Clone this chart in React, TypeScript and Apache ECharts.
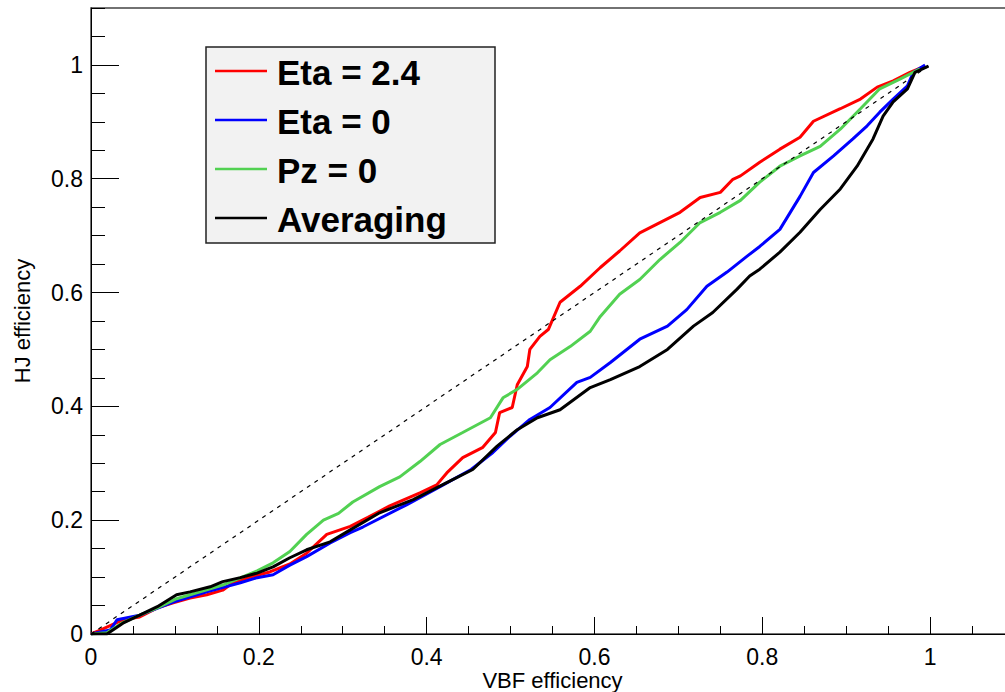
import React, { useEffect, useRef } from "react";
import * as echarts from "echarts";

const seriesNames = ["Eta = 2.4", "Eta = 0", "Pz = 0", "Averaging"];
const seriesColors = ["#ff0000", "#0000ff", "#52d152", "#000000"];

const xTitle = "VBF efficiency";
const yTitle = "HJ efficiency";

const eta24: number[][] = [
  [0, 0], [0.011, 0.007], [0.038, 0.025], [0.058, 0.03], [0.079, 0.046], [0.098, 0.055],
  [0.118, 0.063], [0.138, 0.069], [0.157, 0.077], [0.169, 0.09], [0.19, 0.1], [0.213, 0.109],
  [0.237, 0.123], [0.257, 0.142], [0.281, 0.175], [0.309, 0.189], [0.33, 0.205], [0.356, 0.225],
  [0.392, 0.248], [0.412, 0.262], [0.424, 0.283], [0.443, 0.31], [0.467, 0.328], [0.482, 0.354],
  [0.487, 0.389], [0.502, 0.398], [0.508, 0.438], [0.52, 0.47], [0.523, 0.5], [0.535, 0.523],
  [0.545, 0.535], [0.559, 0.583], [0.583, 0.611], [0.607, 0.644], [0.63, 0.673], [0.654, 0.705],
  [0.678, 0.723], [0.702, 0.741], [0.726, 0.767], [0.75, 0.776], [0.765, 0.799], [0.774, 0.805],
  [0.797, 0.829], [0.821, 0.852], [0.845, 0.873], [0.861, 0.901], [0.893, 0.923], [0.917, 0.94],
  [0.937, 0.961], [0.956, 0.972], [0.976, 0.987], [0.994, 0.998],
];

const eta0: number[][] = [
  [0, 0], [0.023, 0.007], [0.031, 0.025], [0.058, 0.033], [0.098, 0.056], [0.138, 0.074],
  [0.178, 0.09], [0.198, 0.099], [0.217, 0.104], [0.237, 0.121], [0.257, 0.136], [0.285, 0.16],
  [0.309, 0.178], [0.324, 0.188], [0.376, 0.227], [0.416, 0.259], [0.453, 0.289], [0.479, 0.319],
  [0.499, 0.347], [0.523, 0.377], [0.547, 0.398], [0.579, 0.442], [0.595, 0.451], [0.619, 0.477],
  [0.654, 0.518], [0.687, 0.541], [0.71, 0.57], [0.734, 0.611], [0.758, 0.636], [0.782, 0.664],
  [0.797, 0.681], [0.821, 0.711], [0.845, 0.769], [0.861, 0.811], [0.885, 0.84], [0.908, 0.87],
  [0.925, 0.893], [0.94, 0.917], [0.956, 0.94], [0.973, 0.963], [0.98, 0.987], [0.994, 1.0],
];

const pz0: number[][] = [
  [0, 0], [0.019, 0.002], [0.038, 0.02], [0.058, 0.033], [0.079, 0.046], [0.102, 0.062],
  [0.118, 0.069], [0.157, 0.086], [0.198, 0.111], [0.217, 0.125], [0.237, 0.145], [0.257, 0.175],
  [0.277, 0.2], [0.295, 0.212], [0.312, 0.232], [0.344, 0.259], [0.368, 0.276], [0.392, 0.303],
  [0.416, 0.333], [0.443, 0.354], [0.476, 0.38], [0.491, 0.415], [0.508, 0.43], [0.532, 0.459],
  [0.547, 0.482], [0.571, 0.505], [0.595, 0.532], [0.607, 0.558], [0.63, 0.597], [0.654, 0.623],
  [0.678, 0.658], [0.702, 0.688], [0.726, 0.723], [0.75, 0.741], [0.774, 0.762], [0.797, 0.794],
  [0.821, 0.822], [0.845, 0.84], [0.869, 0.857], [0.893, 0.887], [0.917, 0.923], [0.94, 0.958],
  [0.964, 0.975], [0.988, 0.993],
];

const averaging: number[][] = [
  [0, 0], [0.019, 0], [0.038, 0.019], [0.058, 0.033], [0.079, 0.048], [0.102, 0.069],
  [0.118, 0.074], [0.142, 0.083], [0.157, 0.092], [0.178, 0.099], [0.198, 0.107], [0.217, 0.118],
  [0.237, 0.134], [0.257, 0.148], [0.285, 0.162], [0.309, 0.183], [0.344, 0.213], [0.384, 0.236],
  [0.424, 0.266], [0.455, 0.289], [0.484, 0.33], [0.508, 0.359], [0.532, 0.38], [0.559, 0.394],
  [0.595, 0.433], [0.619, 0.447], [0.654, 0.47], [0.687, 0.5], [0.718, 0.541], [0.741, 0.565],
  [0.77, 0.606], [0.785, 0.629], [0.797, 0.641], [0.821, 0.671], [0.845, 0.706], [0.869, 0.746],
  [0.893, 0.782], [0.913, 0.822], [0.932, 0.87], [0.944, 0.91], [0.956, 0.935], [0.973, 0.958],
  [0.982, 0.987], [0.998, 0.998],
];

const diagonal: number[][] = [
  [0, 0],
  [1, 1],
];

const curves = [eta24, eta0, pz0, averaging];

const FONT = "'Liberation Sans', Arial, Helvetica, sans-serif";

export default function App() {
  const ref = useRef<HTMLDivElement>(null);

  useEffect(() => {
    if (!ref.current) return;
    const chart = echarts.init(ref.current, undefined, { renderer: "svg" });

    const legendTop = 47;
    const rowGap = 49;
    const firstRow = 71;
    const legendGraphics: any[] = [
      {
        type: "rect",
        shape: { x: 206, y: legendTop, width: 289, height: 196 },
        style: { fill: "#f2f2f2", stroke: "#222", lineWidth: 1.5 },
        z: 100,
      },
    ];
    seriesNames.forEach((name, i) => {
      const y = firstRow + i * rowGap;
      legendGraphics.push({
        type: "line",
        shape: { x1: 215, y1: y, x2: 267, y2: y },
        style: { stroke: seriesColors[i], lineWidth: 2.5 },
        z: 101,
      });
      legendGraphics.push({
        type: "text",
        x: 277,
        y: y + 1,
        style: {
          text: name,
          fill: "#000",
          font: `bold 35px ${FONT}`,
          verticalAlign: "middle",
          align: "left",
        },
        z: 101,
      });
    });

    const baseAxis = (isX: boolean) => ({
      type: "value" as const,
      min: 0,
      max: 1.1,
      interval: 0.2,
      position: isX ? "bottom" : "left",
      axisLine: { show: true, lineStyle: { color: "#000", width: 1 } },
      axisTick: { show: true, inside: true, length: isX ? 17 : 28, lineStyle: { color: "#000", width: 1 } },
      axisLabel: {
        show: true,
        margin: isX ? 11 : 8,
        fontSize: 23,
        fontFamily: FONT,
        color: "#000",
        showMaxLabel: false,
      },
      splitLine: { show: false },
      name: isX ? xTitle : yTitle,
      nameLocation: "middle" as const,
      nameGap: isX ? 35 : 58,
      nameRotate: isX ? 0 : 90,
      nameMoveOverlap: false,
      nameTextStyle: { fontSize: 22, fontFamily: FONT, color: "#000" },
    });

    const minorAxis = (isX: boolean) => ({
      type: "value" as const,
      min: 0,
      max: 1.1,
      interval: 0.05,
      position: isX ? "bottom" : "left",
      axisLine: { show: false },
      axisTick: { show: true, inside: true, length: isX ? 8 : 14, lineStyle: { color: "#000", width: 1 } },
      axisLabel: { show: false },
      splitLine: { show: false },
    });

    const option: any = {
      animation: false,
      backgroundColor: "#ffffff",
      grid: {
        left: 91,
        right: 0,
        top: 8,
        bottom: 58,
        containLabel: false,
        outerBoundsMode: "none",
        show: true,
        borderColor: "#444",
        borderWidth: 1.5,
        backgroundColor: "transparent",
      },
      xAxis: [baseAxis(true), minorAxis(true)],
      yAxis: [baseAxis(false), minorAxis(false)],
      legend: { show: false },
      series: [
        ...curves.map((data, i) => ({
          name: seriesNames[i],
          type: "line",
          data,
          xAxisIndex: 0,
          yAxisIndex: 0,
          showSymbol: false,
          symbol: "none",
          lineStyle: { color: seriesColors[i], width: 3 },
          itemStyle: { color: seriesColors[i] },
          z: 3 + i,
        })),
        {
          name: "diagonal",
          type: "line",
          data: diagonal,
          xAxisIndex: 0,
          yAxisIndex: 0,
          showSymbol: false,
          symbol: "none",
          lineStyle: { color: "#000", width: 1.2, type: [4, 5] },
          z: 10,
        },
      ],
      graphic: legendGraphics,
    };

    chart.setOption(option);
    return () => {
      chart.dispose();
    };
  }, []);

  return (
    <div
      style={{
        position: "fixed",
        left: 0,
        top: 0,
        width: 1005,
        height: 692,
        overflow: "hidden",
        background: "#fff",
      }}
    >
      <div ref={ref} style={{ width: 1014, height: 692 }} />
    </div>
  );
}
